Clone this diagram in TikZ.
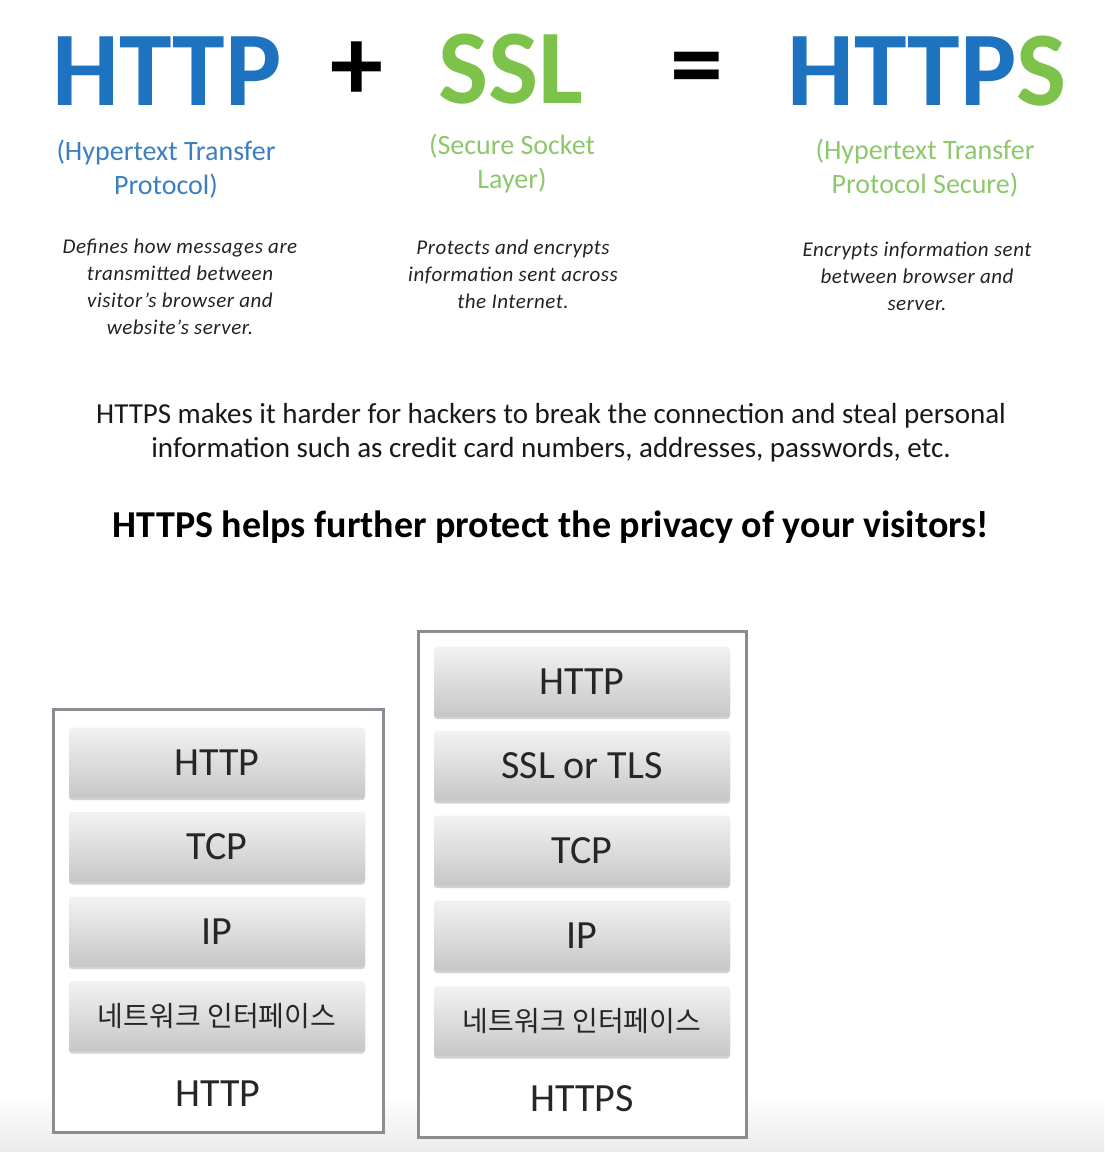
\documentclass[tikz,border=0pt]{standalone}
\usepackage{fontspec}
\setmainfont{Carlito}
\newfontfamily\krfont{Noto Sans CJK KR}
\newfontfamily\descfont[LetterSpace=2.5]{Carlito}
\usetikzlibrary{shadows}
\definecolor{tblue}{HTML}{1E73C1}
\definecolor{tgreen}{HTML}{7DC24B}
\definecolor{sblue}{HTML}{3B7FC2}
\definecolor{sgreen}{HTML}{8CC86B}
\definecolor{frame}{HTML}{8A8D92}
\definecolor{desc}{HTML}{222222}
\tikzset{
  x=1pt, y=-1pt,
  bigtitle/.style={anchor=base west, inner sep=0pt, font=\fontsize{106}{112}\selectfont\bfseries},
  subtitle/.style={align=center, inner sep=0pt, font=\fontsize{28}{34}\selectfont},
  desctext/.style={align=center, inner sep=0pt, text=desc, font=\descfont\fontsize{21}{27}\selectfont\itshape},
  outerbox/.style={draw=frame, line width=3pt, fill=white, inner sep=0pt},
  layer/.style={minimum width=296pt, minimum height=70pt, inner sep=0pt, rounded corners=3pt,
    top color=white!95!black, bottom color=white!78!black,
    drop shadow={opacity=0.35, shadow xshift=0pt, shadow yshift=-2.5pt},
    font=\fontsize{40}{44}\selectfont, text=black!85},
  krlayer/.style={layer, font=\krfont\fontsize{28}{30}\selectfont},
  stacklabel/.style={inner sep=0pt, font=\fontsize{40}{44}\selectfont, text=black!85}
}
\begin{document}
\begin{tikzpicture}
\useasboundingbox (0,0) rectangle (1104,1152);
\shade[top color=white, bottom color=white!92!black] (0,1095) rectangle (1104,1152);

% titles
\node[bigtitle, text=tblue] (thttp) at (52,105) {HTTP};
\node[inner sep=0pt, font=\fontsize{106}{112}\selectfont\bfseries] (plus) at (357,71) {+};
\node[bigtitle, text=tgreen] (tssl) at (438,103) {SSL};
\node[inner sep=0pt, font=\fontsize{106}{112}\selectfont\bfseries] (eq) at (697,76) {=};
\node[bigtitle] (thttps) at (787,105) {\textcolor{tblue}{HTTP}\textcolor{tgreen}{S}};

% subtitles
\node[subtitle, text=sblue] (shttp) at (166,169) {(Hypertext Transfer\\Protocol)};
\node[subtitle, text=sgreen] (sssl) at (512,164) {(Secure Socket\\Layer)};
\node[subtitle, text=sgreen] (shttps) at (925,168) {(Hypertext Transfer\\Protocol Secure)};

% descriptions
\node[desctext] (dhttp) at (180,287) {Defines how messages are\\transmitted between\\visitor’s browser and\\website’s server.};
\node[desctext] (dssl) at (513,274) {Protects and encrypts\\information sent across\\the Internet.};
\node[desctext] (dhttps) at (917,276) {Encrypts information sent\\between browser and\\server.};

% paragraph
\node[align=center, inner sep=0pt, font=\fontsize{29}{34}\selectfont, text=black!90] (para) at (551,433)
  {HTTPS makes it harder for hackers to break the connection and steal personal\\information such as credit card numbers, addresses, passwords, etc.};
\node[inner sep=0pt, font=\fontsize{38}{42}\selectfont\bfseries] (slogan) at (551,527)
  {HTTPS helps further protect the privacy of your visitors!};

% left stack
\node[outerbox, minimum width=330pt, minimum height=423pt] (lbox) at (218,920.5) {};
\node[layer] (lhttp) at (217,762.5) {HTTP};
\node[layer] (ltcp) at (217,847) {TCP};
\node[layer] (lip) at (217,931.5) {IP};
\node[krlayer] (lnet) at (217,1016) {네트워크 인터페이스};
\node[stacklabel] (llabel) at (218,1094) {HTTP};

% right stack
\node[outerbox, minimum width=328pt, minimum height=506pt] (rbox) at (582,884) {};
\node[layer] (rhttp) at (582,681.5) {HTTP};
\node[layer] (rssl) at (582,766) {SSL or TLS};
\node[layer] (rtcp) at (582,850.5) {TCP};
\node[layer] (rip) at (582,935.5) {IP};
\node[krlayer] (rnet) at (582,1021) {네트워크 인터페이스};
\node[stacklabel] (rlabel) at (582,1099) {HTTPS};
\end{tikzpicture}
\end{document}
